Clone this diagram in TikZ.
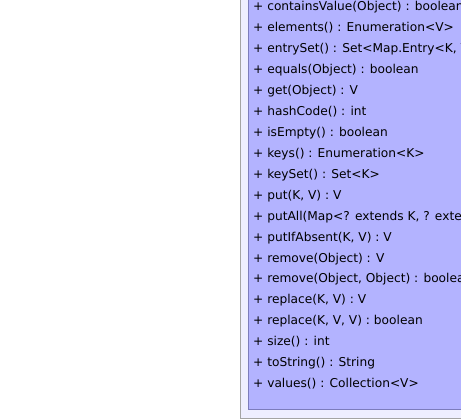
\documentclass[tikz,border=0pt]{standalone}
\usepackage{fontspec}
\setmainfont{DejaVu Sans}
\definecolor{classfill}{HTML}{B3B3FF}
\definecolor{classline}{HTML}{7C7CBC}
\definecolor{framefill}{HTML}{EEEEFF}
\definecolor{frameline}{HTML}{A4A4A4}
\tikzset{
  member/.style={anchor=base west, inner sep=0pt, font=\fontsize{12.2}{14}\selectfont, text=black},
  frame/.style={draw=frameline, fill=framefill, line width=1pt},
  classbox/.style={draw=classline, fill=classfill, line width=1pt}
}
\begin{document}
\begin{tikzpicture}[x=1pt, y=-1pt]
\useasboundingbox (0,0) rectangle (461,420);
\fill[white] (0,0) rectangle (461,420);
\clip (0,0) rectangle (461,420);
% outer frame and class compartment, both running off the top and right
\draw[frame] (240.5,-20) rectangle (490,418.5);
\draw[classbox] (248.5,-20) rectangle (480,409.5);
% operations of the class
\foreach \txt [count=\i from 0] in {
  {+ containsValue(Object) : boolean},
  {+ elements() : Enumeration<V>},
  {+ entrySet() : Set<Map.Entry<K, V>>},
  {+ equals(Object) : boolean},
  {+ get(Object) : V},
  {+ hashCode() : int},
  {+ isEmpty() : boolean},
  {+ keys() : Enumeration<K>},
  {+ keySet() : Set<K>},
  {+ put(K, V) : V},
  {+ putAll(Map<? extends K, ? extends V>) : void},
  {+ putIfAbsent(K, V) : V},
  {+ remove(Object) : V},
  {+ remove(Object, Object) : boolean},
  {+ replace(K, V) : V},
  {+ replace(K, V, V) : boolean},
  {+ size() : int},
  {+ toString() : String},
  {+ values() : Collection<V>}}
  \node[member] (op\i) at (253, 10.6+20.95*\i) {\txt};
\end{tikzpicture}
\end{document}
